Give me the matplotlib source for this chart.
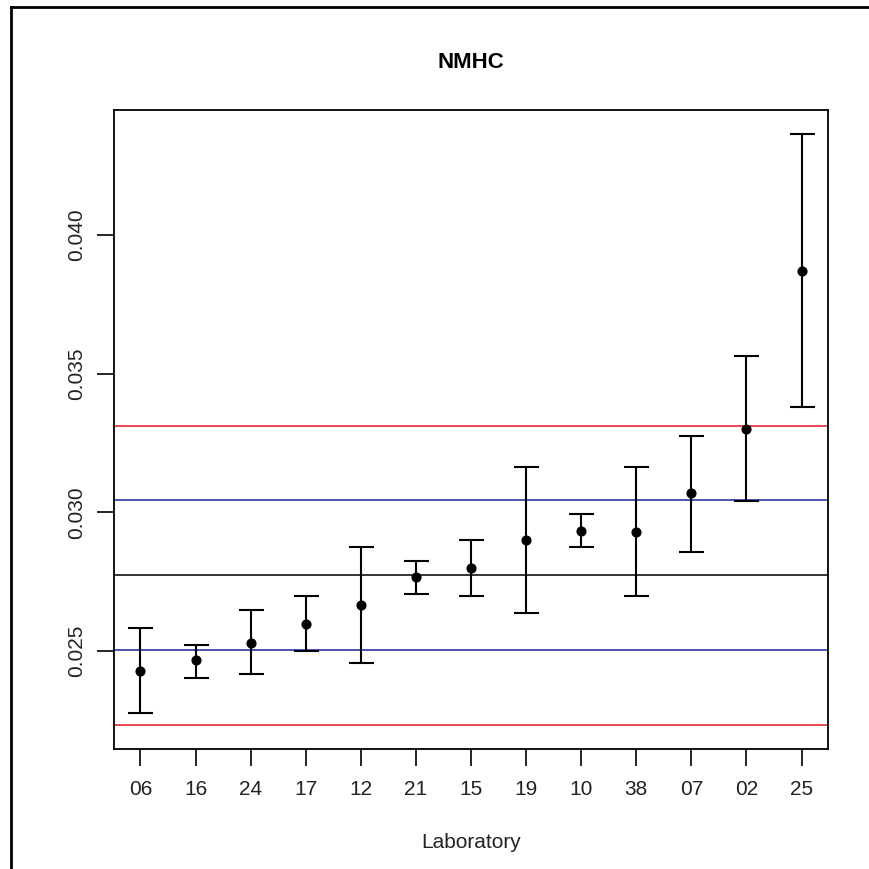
import numpy as np
import matplotlib
matplotlib.use("Agg")
import matplotlib.pyplot as plt

# lab results, sorted by mean
labs = ["06", "16", "24", "17", "12", "21", "15", "19", "10", "38", "07", "02", "25"]
means = [0.02429, 0.02468, 0.02529, 0.02598, 0.02667, 0.02768, 0.02799,
         0.02900, 0.02933, 0.02930, 0.03070, 0.03301, 0.03870]
lower = [0.02279, 0.02405, 0.02417, 0.02501, 0.02456, 0.02707, 0.02699,
         0.02637, 0.02875, 0.02699, 0.02856, 0.03041, 0.03379]
upper = [0.02585, 0.02524, 0.02650, 0.02699, 0.02875, 0.02824, 0.02899,
         0.03162, 0.02994, 0.03162, 0.03276, 0.03563, 0.04364]

# reference lines: consensus value, +/- warning and action limits
center = 0.02774
warn = [0.02505, 0.03044]
action = [0.02233, 0.03312]

plt.rcParams['font.family'] = ['Liberation Sans', 'DejaVu Sans']

fig = plt.figure(figsize=(8.7, 8.69), dpi=100)
ax = fig.add_axes([0.131, 0.1381, 0.8207, 0.7353])

x = np.arange(1, len(labs) + 1)
m = np.array(means)
yerr = [m - np.array(lower), np.array(upper) - m]

ax.axhline(center, color='black', lw=1.1)
for v in warn:
    ax.axhline(v, color='#2020a0', lw=1.1)
for v in action:
    ax.axhline(v, color='#e0141e', lw=1.1)

ax.errorbar(x, m, yerr=yerr, fmt='o', color='black', ms=6.3,
            capsize=9, elinewidth=1.5, capthick=1.5, zorder=3)

# R-style 4% padding
ymin, ymax = min(lower + action), max(upper)
pad = 0.04 * (ymax - ymin)
ax.set_ylim(ymin - pad, ymax + pad)
ax.set_xlim(1 - 0.04 * 12, 13 + 0.04 * 12)

ax.set_xticks(x)
ax.set_xticklabels(labs)
ax.set_yticks([0.025, 0.030, 0.035, 0.040])
ax.set_yticklabels(["0.025", "0.030", "0.035", "0.040"], rotation=90, va='center')
ax.tick_params(axis='x', length=12, width=1.2, labelsize=15, pad=10,
               labelcolor='#222222')
ax.tick_params(axis='y', length=12, width=1.2, labelsize=15, pad=8,
               labelcolor='#222222')
for s in ax.spines.values():
    s.set_linewidth(1.3)

ax.set_xlabel("Laboratory", fontsize=15, labelpad=25, color='#222222')
fig.text(0.541, 1 - 62 / 869, "NMHC", ha='center', va='center',
         fontsize=16, fontweight='bold')

# frame remnant at left and top edge
fig.add_artist(plt.Line2D([11 / 870, 11 / 870], [0, 1 - 6.5 / 869],
                          transform=fig.transFigure, color='black', lw=2))
fig.add_artist(plt.Line2D([11 / 870, 1], [1 - 6.5 / 869, 1 - 6.5 / 869],
                          transform=fig.transFigure, color='black', lw=2))

fig.savefig("out.png", dpi=100)
